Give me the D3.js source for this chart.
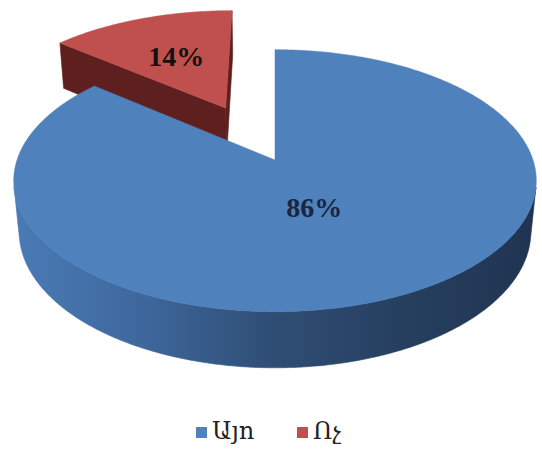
<!DOCTYPE html>
<html>
<head>
<meta charset="utf-8">
<script src="https://cdn.jsdelivr.net/npm/d3@7"></script>
<style>
  html, body { margin: 0; padding: 0; background: #ffffff; }
  svg { display: block; }
</style>
</head>
<body>
<svg id="chart" width="542" height="454"></svg>
<script>
// Survey answers, share of respondents (%)
const categories = ["Այո", "Ոչ"];
const values = [86, 14];
const colors = ["#4F81BD", "#C0504D"];
const explodes = [0, 0.48];

const W = 542, H = 454;
const svg = d3.select("#chart");

// ---- 3D pie camera ----
const cx = 275, cy = 160;          // screen position of pie centre
const S0 = 258;                    // pixels per radius at centre depth
const tilt = Math.asin(0.495);     // viewing elevation
const Dr = 5.5;                    // camera distance in radii
const thick = 0.23;                // pie height in radii
const sinT = Math.sin(tilt), cosT = Math.cos(tilt);
const cam = { x: 0, y: Dr * sinT, z: Dr * cosT };

function project(p) {
  const yc = p.y * cosT - p.z * sinT;
  const zc = p.y * sinT + p.z * cosT;
  const s = S0 * Dr / (Dr - zc);
  return [cx + p.x * s, cy - yc * s];
}

// angular scale: value share -> angle (clockwise from the far side)
const pie = d3.pie().sort(null).value(d => d.value)
  .startAngle(0).endAngle(2 * Math.PI);
const data = categories.map((c, i) => ({ name: c, value: values[i], color: colors[i], explode: explodes[i] }));
const arcs = pie(data);

const colorScale = d3.scaleOrdinal().domain(categories).range(colors);
const sideDark = d3.scaleOrdinal().domain(categories).range(["#2d4a70", "#5e201e"]);

const defs = svg.append("defs");
const sideGrad = [
  ["#4a7bb6", "#3e679c", "#2f4d74", "#263f5f", "#1f3451"],
  ["#6b2826", "#622321", "#5a1e1c", "#541b19", "#4e1917"]
];

const layer = svg.append("g");
const line = d3.line();

function pt(a, r, y, o) {
  return { x: o.x + r * Math.sin(a), y: y, z: o.z - r * Math.cos(a) };
}
function visible(n, p) {
  return n.x * (cam.x - p.x) + n.y * (cam.y - p.y) + n.z * (cam.z - p.z) > 1e-6;
}

// draw far slices first
const order = arcs.map((d, i) => {
  const mid = (d.startAngle + d.endAngle) / 2;
  const o = { x: d.data.explode * Math.sin(mid), z: -d.data.explode * Math.cos(mid) };
  return { d, i, mid, o };
}).sort((a, b) => (a.o.z - b.o.z));

order.forEach(({ d, i, mid, o }) => {
  const n = Math.max(8, Math.ceil((d.endAngle - d.startAngle) / (Math.PI / 360)));
  const angles = d3.range(n + 1).map(k => d.startAngle + (d.endAngle - d.startAngle) * k / n);
  const topPts = angles.map(a => project(pt(a, 1, 0, o)));
  const botPts = angles.map(a => project(pt(a, 1, -thick, o)));
  const tipTop = project({ x: o.x, y: 0, z: o.z });
  const tipBot = project({ x: o.x, y: -thick, z: o.z });

  // side gradient across the slice's screen width
  const xs = topPts.map(p => p[0]);
  const gid = "side" + i;
  const g = defs.append("linearGradient").attr("id", gid)
    .attr("gradientUnits", "userSpaceOnUse")
    .attr("x1", d3.min(xs)).attr("x2", d3.max(xs)).attr("y1", 0).attr("y2", 0);
  sideGrad[i].forEach((c, k) => g.append("stop").attr("offset", k / (sideGrad[i].length - 1)).attr("stop-color", c));

  const sg = layer.append("g");

  // radial faces
  [[d.startAngle, -1], [d.endAngle, 1]].forEach(([a, sgn]) => {
    const nrm = { x: sgn * Math.cos(a), y: 0, z: sgn * Math.sin(a) };
    const p = pt(a, 0.5, -thick / 2, o);
    if (visible(nrm, p)) {
      const outT = project(pt(a, 1, 0, o)), outB = project(pt(a, 1, -thick, o));
      sg.append("path")
        .attr("d", line([tipTop, outT, outB, tipBot]) + "Z")
        .attr("fill", sideDark(d.data.name))
        .attr("stroke", sideDark(d.data.name)).attr("stroke-width", 0.6);
    }
  });

  // outer curved side, in contiguous visible runs
  let run = [];
  const runs = [];
  for (let k = 0; k < n; k++) {
    const a = (angles[k] + angles[k + 1]) / 2;
    const nrm = { x: Math.sin(a), y: 0, z: -Math.cos(a) };
    const vis = visible(nrm, pt(a, 1, -thick / 2, o));
    if (vis) { if (!run.length) run.push(k); run.push(k + 1); }
    else if (run.length) { runs.push(run); run = []; }
  }
  if (run.length) runs.push(run);
  runs.forEach(r => {
    const poly = r.map(k => topPts[k]).concat(r.slice().reverse().map(k => botPts[k]));
    sg.append("path").attr("d", line(poly) + "Z")
      .attr("fill", `url(#${gid})`).attr("stroke", `url(#${gid})`).attr("stroke-width", 0.6);
  });

  // top face
  sg.append("path")
    .attr("d", line([tipTop].concat(topPts)) + "Z")
    .attr("fill", colorScale(d.data.name))
    .attr("stroke", colorScale(d.data.name)).attr("stroke-width", 0.5);
});

// percentage labels on the top faces
const labelR = [0.34, 0.55];
const labelDy = [16, 10];
const labelInk = ["#1b2542", "#111111"];
arcs.forEach((d, i) => {
  const mid = (d.startAngle + d.endAngle) / 2;
  const r = d.data.explode + labelR[i];
  const p = project({ x: r * Math.sin(mid), y: 0, z: -r * Math.cos(mid) });
  svg.append("text")
    .attr("x", p[0]).attr("y", p[1] + labelDy[i])
    .attr("text-anchor", "middle")
    .attr("font-family", "'Liberation Serif', 'Times New Roman', serif")
    .attr("font-weight", "bold")
    .attr("font-size", 28)
    .attr("fill", labelInk[i])
    .text(d3.format(".0f")(d.value) + "%");
});

// legend
const legendX = d3.scalePoint().domain(categories).range([196, 297]);
const lg = svg.append("g");
categories.forEach(c => {
  const x = legendX(c);
  lg.append("rect").attr("x", x).attr("y", 427).attr("width", 11).attr("height", 11)
    .attr("fill", colorScale(c));
  lg.append("text").attr("x", x + 16).attr("y", 439)
    .attr("font-family", "'DejaVu Serif', 'Noto Sans', serif")
    .attr("font-size", 24)
    .attr("fill", "#222")
    .text(c);
});
</script>
</body>
</html>
